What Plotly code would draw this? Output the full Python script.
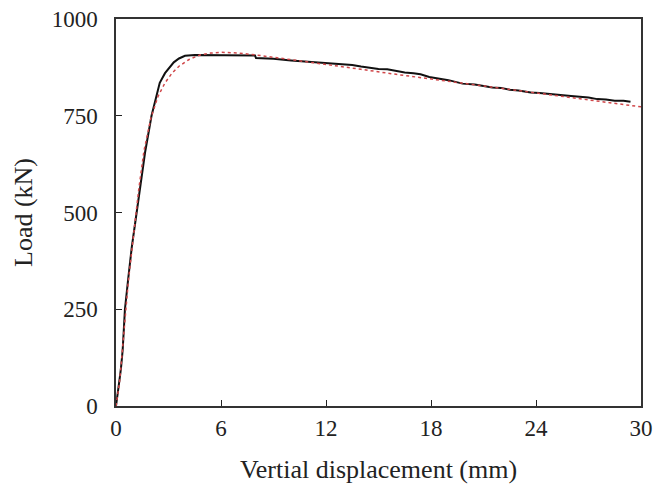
import plotly.graph_objects as go

# ---------------------------------------------------------------------------------------------------------- Data
TEST_DISP = [0, 0.1, 0.2, 0.25, 0.3, 0.38, 0.45, 0.51, 0.7, 0.9, 1.18, 1.4, 1.66, 2.03, 2.3, 2.5, 2.8, 3.1,
             3.3, 3.6, 3.94, 4.5, 5, 6, 7, 7.94, 8.0, 8.5, 9, 10, 11, 12, 13, 13.5, 14, 14.5, 15, 15.5, 16,
             16.5, 17, 17.4, 17.9, 18.5, 19, 19.8, 20.5, 21, 21.5, 22, 22.5, 23, 23.7, 24.2, 24.8, 25.3, 26,
             26.5, 27, 27.5, 28, 28.5, 29, 29.4]
TEST_LOAD = [0, 30, 60, 85, 105, 144, 200, 250, 330, 410, 500, 570, 655, 750, 800, 835, 860, 878,
             888, 898, 905, 907, 907, 907, 907, 906, 899, 898, 897, 893, 890, 887, 883, 881, 877, 874, 871, 870, 866,
             862, 860, 857, 850, 846, 842, 833, 831, 827, 823, 822, 817, 815, 810, 809, 806, 803, 801,
             799, 797, 793, 792, 789, 789, 786]

FE_DISP = [0, 0.1, 0.2, 0.3, 0.4, 0.5, 0.7, 1.0, 1.3, 1.6, 2.0, 2.4, 2.8, 3.2, 3.6, 4.2, 4.8, 5.4, 6, 7, 8,
           10, 12, 14, 16, 18, 20, 22, 24, 26, 28, 30]
FE_LOAD = [0, 25, 60, 110, 165, 220, 320, 440, 560, 660, 745, 800, 835, 860, 878, 896, 907, 912, 914, 912, 907,
           895, 883, 870, 857, 845, 833, 821, 809, 797, 785, 773]

X_TICKS = [0, 6, 12, 18, 24, 30]
Y_TICKS = [0, 250, 500, 750, 1000]

FONT = "Liberation Serif, Times New Roman, serif"

fig = go.Figure()
fig.add_trace(go.Scatter(x=TEST_DISP, y=TEST_LOAD, mode="lines", line=dict(color="#111111", width=2)))
fig.add_trace(go.Scatter(x=FE_DISP, y=FE_LOAD, mode="lines", line=dict(color="#d0474a", width=1.5, dash="dot")))


def _axis(ticks, rng, title, standoff, label_gap):
    return dict(
        range=rng,
        tickvals=ticks,
        ticks="inside",
        ticklen=6,
        tickwidth=1.2,
        tickcolor="#222222",
        showline=True,
        linecolor="#333333",
        linewidth=1.5,
        mirror=True,
        showgrid=False,
        zeroline=False,
        automargin=False,
        ticklabeloverflow="allow",
        ticklabelstandoff=label_gap,
        title=dict(text=title, standoff=standoff, font=dict(family=FONT, size=26, color="#222222")),
        tickfont=dict(family=FONT, size=23, color="#222222"),
    )


# page body adds an 8px offset, so margins are shifted to compensate
fig.update_layout(
    width=672,
    height=486,
    showlegend=False,
    plot_bgcolor="white",
    paper_bgcolor="white",
    margin=dict(l=108, r=39, t=11, b=88),
    xaxis=_axis(X_TICKS, [0, 30], "Vertial displacement (mm)", 19, 1),
    yaxis=_axis(Y_TICKS, [0, 1000], "Load (kN)", 12, 12),
)

fig.write_html("out.html")
